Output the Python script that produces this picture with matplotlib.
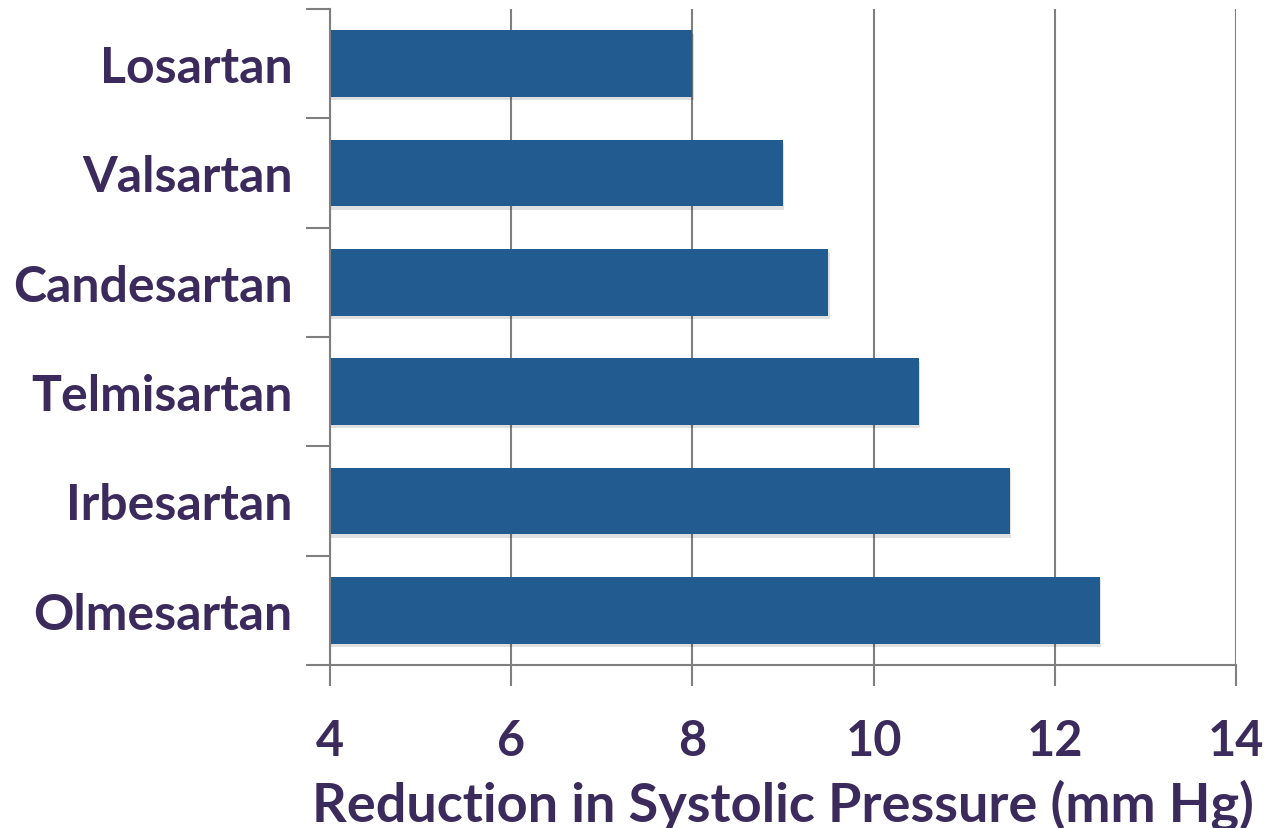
import matplotlib
matplotlib.use("Agg")
import matplotlib.pyplot as plt
import matplotlib.patheffects as pe
import numpy as np

drugs = ["Losartan", "Valsartan", "Candesartan", "Telmisartan", "Irbesartan", "Olmesartan"]
reduction = [8.0, 9.0, 9.5, 10.5, 11.5, 12.5]
x_ticks = [4, 6, 8, 10, 12, 14]
x_label = "Reduction in Systolic Pressure (mm Hg)"

text_color = "#3b2b5c"
bar_color = "#215b90"
line_color = "#7f7f7f"
font = ["Lato", "DejaVu Sans"]

fig = plt.figure(figsize=(12.71, 8.29), dpi=100)
ax = fig.add_axes([330 / 1271, 1 - 666 / 829, (1236 - 330) / 1271, (666 - 10) / 829])

base = x_ticks[0]
y = np.arange(len(drugs))
bars = ax.barh(y, np.array(reduction) - base, left=base, height=0.61,
               color=bar_color, zorder=3)
for b in bars:
    b.set_path_effects([pe.SimplePatchShadow(offset=(1, -2.5), shadow_rgbFace="#000000", alpha=0.12),
                        pe.Normal()])

ax.set_xlim(x_ticks[0], x_ticks[-1])
ax.set_ylim(len(drugs) - 0.5, -0.5)
ax.set_xticks(x_ticks)
ax.set_xticklabels([str(t) for t in x_ticks])
ax.set_yticks(y)
ax.set_yticklabels(drugs)
ax.set_yticks(np.arange(-0.5, len(drugs), 1.0), minor=True)

ax.grid(axis="x", color=line_color, linewidth=1.5, zorder=0)
for s in ["top", "right"]:
    ax.spines[s].set_visible(False)
for s in ["left", "bottom"]:
    ax.spines[s].set_color(line_color)
    ax.spines[s].set_linewidth(1.5)
    ax.spines[s].set_zorder(4)

ax.tick_params(axis="y", which="major", length=0, pad=27, labelsize=36,
               labelcolor=text_color)
ax.tick_params(axis="y", which="minor", length=17, width=1.5, color=line_color)
ax.tick_params(axis="x", which="major", length=15, width=1.5, color=line_color,
               pad=23, labelsize=35, labelcolor=text_color)
for lab in ax.get_yticklabels() + ax.get_xticklabels():
    lab.set_fontfamily(font)
    lab.set_fontweight("bold")

ax.set_xlabel(x_label, fontsize=39, fontweight="bold", color=text_color,
              family=font, labelpad=11)

fig.savefig("out.png", dpi=100, facecolor="white")
